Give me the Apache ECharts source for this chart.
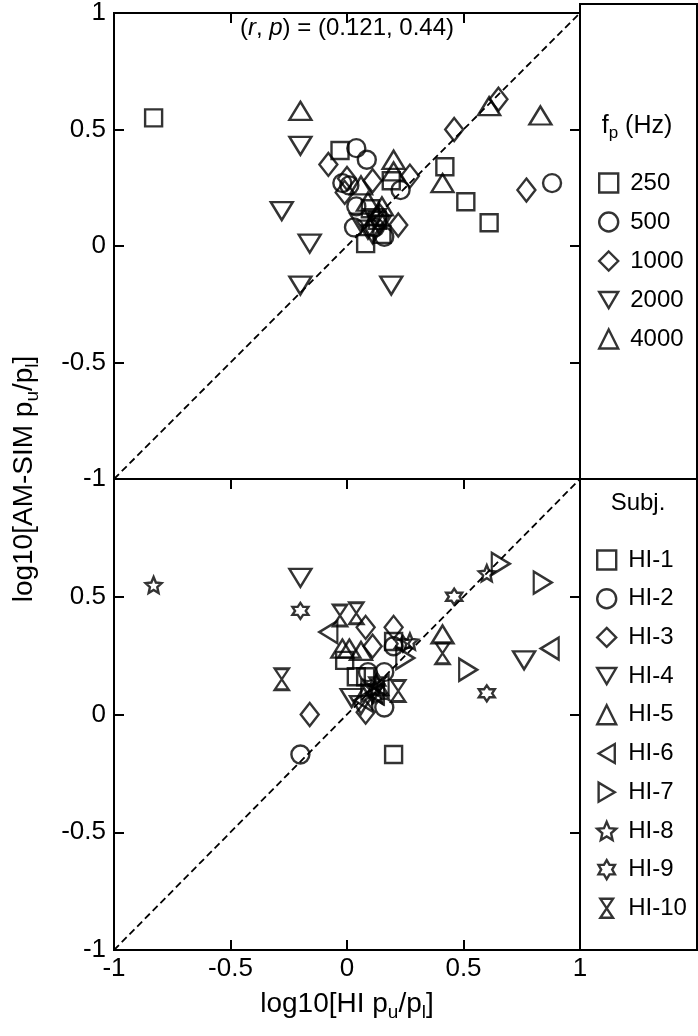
<!DOCTYPE html>
<html>
<head>
<meta charset="utf-8">
<script src="https://cdn.jsdelivr.net/npm/echarts@6/dist/echarts.min.js"></script>
<style>
  html, body { margin: 0; padding: 0; background: #fff; }
  #chart { width: 698px; height: 1036px; }
</style>
</head>
<body>
<div id="chart"></div>
<script>
// tick values shared by both panels
const axisTicks = [-1, -0.5, 0, 0.5, 1]

// top panel: points grouped by probe frequency [x, y]
const freqNames = ['250', '500', '1000', '2000', '4000']
const f250 = [[-0.83, 0.55], [-0.03, 0.41], [0.19, 0.28], [0.10, 0.16], [0.15, 0.05], [0.08, 0.01], [0.42, 0.34], [0.51, 0.19], [0.61, 0.10], [0.13, 0.11]]
const f500 = [[0.04, 0.42], [0.085, 0.37], [-0.02, 0.27], [0.01, 0.26], [0.23, 0.24], [0.04, 0.17], [0.03, 0.08], [0.12, 0.08], [0.16, 0.04], [0.88, 0.27]]
const f1000 = [[-0.08, 0.35], [0.00, 0.29], [-0.01, 0.23], [0.11, 0.28], [0.27, 0.30], [0.22, 0.09], [0.65, 0.63], [0.46, 0.50], [0.77, 0.24], [0.14, 0.13]]
const f2000 = [[-0.20, 0.43], [-0.28, 0.15], [-0.16, 0.01], [-0.20, -0.17], [0.19, -0.17], [0.09, 0.07], [0.12, 0.12], [0.06, 0.10], [0.14, 0.09], [0.11, 0.05]]
const f4000 = [[-0.20, 0.58], [0.20, 0.37], [0.20, 0.32], [0.06, 0.26], [0.15, 0.17], [0.09, 0.19], [0.41, 0.27], [0.61, 0.60], [0.83, 0.56], [0.13, 0.13]]

// bottom panel: points grouped by subject [x, y]
const subjNames = ['HI-1', 'HI-2', 'HI-3', 'HI-4', 'HI-5', 'HI-6', 'HI-7', 'HI-8', 'HI-9', 'HI-10']
const hi1 = [[0.20, -0.17], [-0.01, 0.23], [0.04, 0.16], [0.20, 0.31], [0.08, 0.16]]
const hi2 = [[-0.20, -0.17], [0.09, 0.18], [0.16, 0.18], [0.20, 0.29], [0.16, 0.03]]
const hi3 = [[-0.16, 0.00], [0.08, 0.37], [0.20, 0.37], [0.11, 0.29], [0.08, 0.01]]
const hi4 = [[-0.20, 0.58], [0.02, 0.07], [0.76, 0.23], [0.11, 0.09], [0.06, 0.04]]
const hi5 = [[-0.02, 0.28], [0.01, 0.28], [0.06, 0.27], [0.41, 0.34], [0.13, 0.12]]
const hi6 = [[-0.08, 0.35], [0.07, 0.06], [0.12, 0.09], [0.87, 0.28], [0.14, 0.12]]
const hi7 = [[0.66, 0.64], [0.84, 0.56], [0.52, 0.19], [0.25, 0.24], [0.10, 0.10]]
const hi8 = [[-0.83, 0.55], [0.60, 0.60], [0.27, 0.31], [0.12, 0.11], [0.13, 0.08]]
const hi9 = [[-0.20, 0.44], [0.46, 0.50], [0.60, 0.09], [0.13, 0.14], [0.24, 0.30]]
const hi10 = [[-0.28, 0.15], [-0.03, 0.42], [0.04, 0.43], [0.41, 0.26], [0.22, 0.10]]

// identity line
const diagonal = [[-1, -1], [1, 1]]

const FONT = 'Liberation Sans, Arial, sans-serif'

// marker shapes
function starPath(n, rOut, rIn) {
  const pts = []
  for (let i = 0; i < n * 2; i++) {
    const r = i % 2 ? rIn : rOut
    const a = -Math.PI / 2 + i * Math.PI / n
    pts.push((10 + r * Math.cos(a)).toFixed(2) + ',' + (10 + r * Math.sin(a)).toFixed(2))
  }
  return 'path://M' + pts.join('L') + 'Z'
}
const SYM = {
  square: 'rect',
  circle: 'circle',
  diamond: 'diamond',
  up: 'triangle',
  down: 'path://M0,0L20,0L10,17Z',
  left: 'path://M17,0L17,20L0,10Z',
  right: 'path://M0,0L0,20L17,10Z',
  star5: starPath(5, 10, 4.6),
  star6: starPath(6, 10, 5.8),
  hourglass: 'path://M0,0L12,0L0,18L12,18Z'
}
const SIZE = {
  square: 17, circle: 18, diamond: [18, 23], up: [22, 18], down: [22, 18],
  left: [18, 22], right: [18, 22], star5: 16, star6: 16, hourglass: [14, 21]
}

const hollow = { color: 'rgba(0,0,0,0)', borderColor: '#000', borderWidth: 2.4 }

function scatter(name, data, shape, gi) {
  return {
    name: name,
    type: 'scatter',
    xAxisIndex: gi === 0 ? 0 : 1,
    yAxisIndex: gi === 0 ? 0 : 2,
    data: data,
    symbol: SYM[shape],
    symbolSize: SIZE[shape],
    itemStyle: hollow,
    emphasis: { disabled: true },
    z: 3
  }
}

function diagLine(gi) {
  return {
    type: 'line',
    xAxisIndex: gi === 0 ? 0 : 1,
    yAxisIndex: gi === 0 ? 0 : 2,
    data: diagonal,
    showSymbol: false,
    silent: true,
    lineStyle: { color: '#000', width: 1.8, type: [7, 4] },
    z: 2
  }
}

const tickStyle = { show: true, inside: true, length: 10, lineStyle: { color: '#000', width: 2 } }
const labelStyle = { color: '#000', fontSize: 26, fontFamily: FONT }

function valAxis(gridIndex, position, showLabel, extra) {
  return Object.assign({
    type: 'value',
    gridIndex: gridIndex,
    position: position,
    min: axisTicks[0],
    max: axisTicks[axisTicks.length - 1],
    interval: 0.5,
    axisLine: { show: false, onZero: false },
    axisTick: tickStyle,
    splitLine: { show: false },
    axisLabel: Object.assign({ show: showLabel, margin: 8 }, labelStyle)
  }, extra || {})
}

// rich-text with subscripts
const richMain = { fontSize: 28, fontFamily: FONT, color: '#000', lineHeight: 36 }
const richSub = { fontSize: 19, fontFamily: FONT, color: '#000', lineHeight: 19, verticalAlign: 'bottom' }
const legRichMain = { fontSize: 25, fontFamily: FONT, color: '#000', lineHeight: 32 }
const legRichSub = { fontSize: 17, fontFamily: FONT, color: '#000', lineHeight: 16, verticalAlign: 'bottom' }

const chart = echarts.init(document.getElementById('chart'))

const legendText = { fontSize: 24, fontFamily: FONT, color: '#000', padding: [0, 0, 0, 7] }

const option = {
  backgroundColor: '#fff',
  animation: false,
  grid: [
    { left: 114, top: 4, width: 466, height: 475, show: true, borderColor: '#000', borderWidth: 2, backgroundColor: 'transparent' },
    { left: 114, top: 479, width: 466, height: 471, show: true, borderColor: '#000', borderWidth: 2, backgroundColor: 'transparent' }
  ],
  xAxis: [
    valAxis(0, 'top', false),
    valAxis(1, 'bottom', true, { axisLabel: Object.assign({ show: true, margin: 6 }, labelStyle) }),
    valAxis(1, 'top', false)
  ],
  yAxis: [
    valAxis(0, 'left', true),
    valAxis(0, 'right', false),
    valAxis(1, 'left', true, { axisLabel: Object.assign({ show: true, margin: 8, showMaxLabel: false }, labelStyle) }),
    valAxis(1, 'right', false)
  ],
  legend: [
    {
      data: freqNames,
      orient: 'vertical',
      left: 598,
      top: 171,
      padding: 0,
      itemWidth: 19,
      itemHeight: 19,
      itemGap: 15,
      selectedMode: false,
      itemStyle: hollow,
      textStyle: legendText
    },
    {
      data: subjNames,
      orient: 'vertical',
      left: 596,
      top: 548,
      padding: 0,
      itemWidth: 19,
      itemHeight: 19,
      itemGap: 14.7,
      selectedMode: false,
      itemStyle: hollow,
      textStyle: legendText
    }
  ],
  graphic: [
    { type: 'rect', shape: { x: 580, y: 4, width: 117, height: 475 }, style: { fill: 'none', stroke: '#000', lineWidth: 2 }, silent: true },
    { type: 'rect', shape: { x: 580, y: 479, width: 117, height: 471 }, style: { fill: 'none', stroke: '#000', lineWidth: 2 }, silent: true },
    {
      type: 'text', x: 347, y: 28, silent: true,
      style: {
        text: '{m|(}{i|r}{m|, }{i|p}{m|) = (0.121, 0.44)}',
        align: 'center', verticalAlign: 'middle',
        rich: { m: { fontSize: 24, fontFamily: FONT, color: '#000' }, i: { fontSize: 24, fontFamily: FONT, color: '#000', fontStyle: 'italic' } }
      }
    },
    {
      type: 'text', x: 637, y: 126, silent: true,
      style: { text: '{m|f}{s|p}{m| (Hz)}', align: 'center', verticalAlign: 'middle', rich: { m: legRichMain, s: legRichSub } }
    },
    {
      type: 'text', x: 638, y: 503, silent: true,
      style: { text: 'Subj.', align: 'center', verticalAlign: 'middle', fontSize: 24, fontFamily: FONT, fill: '#000' }
    },
    {
      type: 'text', x: 347, y: 1004, silent: true,
      style: { text: '{m|log10[HI p}{s|u}{m|/p}{s|l}{m|]}', align: 'center', verticalAlign: 'middle', rich: { m: richMain, s: richSub } }
    },
    {
      type: 'text', x: 24, y: 479, rotation: Math.PI / 2, silent: true,
      style: { text: '{m|log10[AM-SIM p}{s|u}{m|/p}{s|l}{m|]}', align: 'center', verticalAlign: 'middle', rich: { m: richMain, s: richSub } }
    }
  ],
  series: [
    diagLine(0),
    diagLine(1),
    scatter(freqNames[0], f250, 'square', 0),
    scatter(freqNames[1], f500, 'circle', 0),
    scatter(freqNames[2], f1000, 'diamond', 0),
    scatter(freqNames[3], f2000, 'down', 0),
    scatter(freqNames[4], f4000, 'up', 0),
    scatter(subjNames[0], hi1, 'square', 1),
    scatter(subjNames[1], hi2, 'circle', 1),
    scatter(subjNames[2], hi3, 'diamond', 1),
    scatter(subjNames[3], hi4, 'down', 1),
    scatter(subjNames[4], hi5, 'up', 1),
    scatter(subjNames[5], hi6, 'left', 1),
    scatter(subjNames[6], hi7, 'right', 1),
    scatter(subjNames[7], hi8, 'star5', 1),
    scatter(subjNames[8], hi9, 'star6', 1),
    scatter(subjNames[9], hi10, 'hourglass', 1)
  ]
}

chart.setOption(option)
</script>
</body>
</html>
